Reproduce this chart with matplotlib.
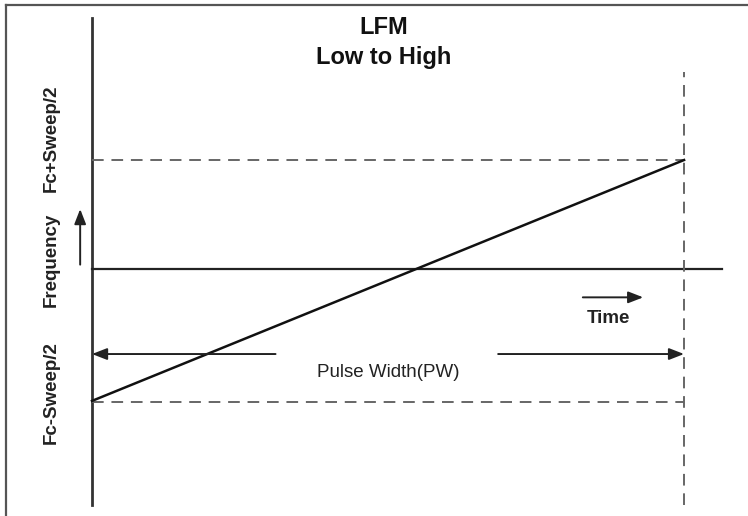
import matplotlib.pyplot as plt
from matplotlib.lines import Line2D

# signal in normalised units: time in pulse widths, frequency relative to Fc
t_sweep = [0.0, 1.0]
f_sweep = [-1.21, 1.0]
f_high = 1.0
f_low = -1.22
t_end = 1.0

title_lines = ["LFM", "Low to High"]
label_high = "Fc+Sweep/2"
label_low = "Fc-Sweep/2"
label_freq = "Frequency"
label_time = "Time"
label_pw = "Pulse Width(PW)"

font = ['Liberation Sans Narrow', 'Liberation Sans', 'DejaVu Sans']

fig = plt.figure(figsize=(7.48, 5.16), dpi=100)
ax = fig.add_axes([0, 0, 1, 1])
ax.set_xlim(-0.1554, 1.108)
ax.set_ylim(-2.266, 2.468)
ax.axis('off')

# frame of the picture (top and left edges only)
fig.add_artist(Line2D([0.008, 1.0], [0.990, 0.990], color='#555555', lw=1.6, transform=fig.transFigure))
fig.add_artist(Line2D([0.008, 0.008], [0.0, 0.990], color='#555555', lw=1.6, transform=fig.transFigure))

# axes of the sketch
ax.plot([0, 0], [-2.165, 2.30], color='#333333', lw=2.0)
ax.plot([0, 1.064], [0, 0], color='#222222', lw=1.6)

# dashed guides
dash = dict(color='#666666', lw=1.4, dashes=(6, 4))
ax.plot([0, t_end], [f_high, f_high], **dash)
ax.plot([0, t_end], [f_low, f_low], **dash)
ax.plot([t_end, t_end], [-2.165, 1.807], **dash)

# the sweep itself
ax.plot(t_sweep, f_sweep, color='#111111', lw=1.8)

# pulse width arrows
arr = dict(arrowstyle='-|>,head_length=0.9,head_width=0.35', color='#222222', lw=1.4, shrinkA=0, shrinkB=0)
ax.annotate('', xy=(0, -0.78), xytext=(0.31, -0.78), arrowprops=arr)
ax.annotate('', xy=(t_end, -0.78), xytext=(0.686, -0.78), arrowprops=arr)
ax.text(0.5, -0.95, label_pw, ha='center', va='center', fontsize=13.5, family=font, color='#222222')

# time arrow
ax.annotate('', xy=(0.931, -0.26), xytext=(0.829, -0.26), arrowprops=arr)
ax.text(0.872, -0.45, label_time, ha='center', va='center', fontsize=13.5, family=font, weight='bold', color='#222222')

# frequency arrow and labels
ax.annotate('', xy=(-0.020, 0.55), xytext=(-0.020, 0.04), arrowprops=arr)
ax.text(-0.068, 0.08, label_freq, ha='center', va='center', rotation=90, fontsize=13.5, family=font, weight='bold', color='#222222')
ax.text(-0.068, 1.20, label_high, ha='center', va='center', rotation=90, fontsize=13.5, family=font, weight='bold', color='#222222')
ax.text(-0.068, -1.13, label_low, ha='center', va='center', rotation=90, fontsize=13.5, family=font, weight='bold', color='#222222')

# title
ax.text(0.492, 2.22, title_lines[0], ha='center', va='center', fontsize=17, family=font, weight='bold', color='#111111')
ax.text(0.492, 1.94, title_lines[1], ha='center', va='center', fontsize=17, family=font, weight='bold', color='#111111')

fig.savefig('out.png', dpi=100)
